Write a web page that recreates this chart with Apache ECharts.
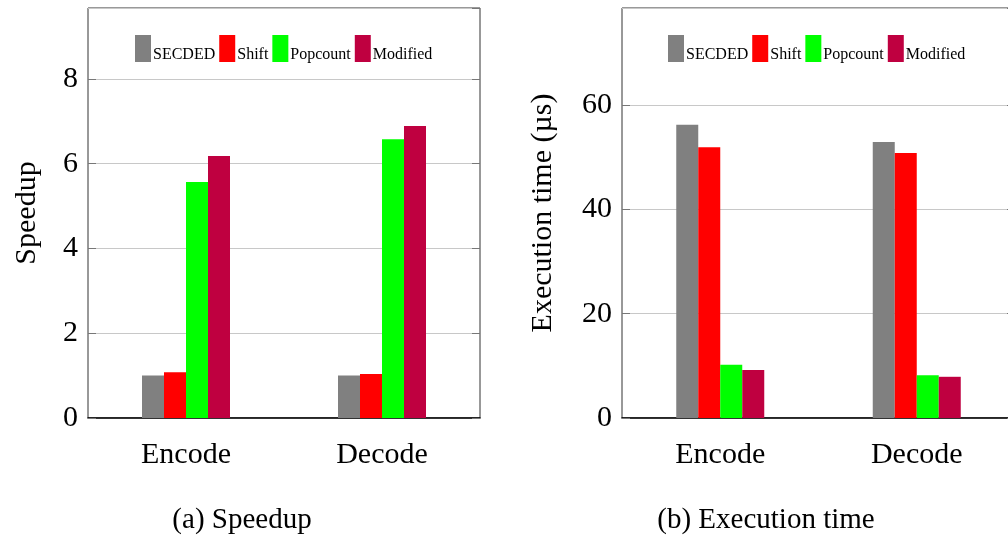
<!DOCTYPE html>
<html><head><meta charset="utf-8">
<script src="https://cdn.jsdelivr.net/npm/echarts@6/dist/echarts.min.js"></script>
<style>html,body{margin:0;padding:0;background:#fff;overflow:hidden}#c{width:1020px;height:537px}</style>
</head><body><div id="c"></div>
<script>
const categories = ['Encode', 'Decode'];
const seriesNames = ['SECDED', 'Shift', 'Popcount', 'Modified'];
const colors = ['#808080', '#ff0000', '#00ff00', '#bf0040'];
const speedupSECDED = [1.0, 1.0];
const speedupShift = [1.08, 1.04];
const speedupPopcount = [5.57, 6.58];
const speedupModified = [6.18, 6.89];
const timeSECDED = [56.2, 52.9];
const timeShift = [51.9, 50.8];
const timePopcount = [10.2, 8.2];
const timeModified = [9.2, 7.9];
const speedupTicks = [0, 2, 4, 6, 8];
const timeTicks = [0, 20, 40, 60];
const captions = ['(a) Speedup', '(b) Execution time'];

const FONT = 'Liberation Serif';
const speedupData = [speedupSECDED, speedupShift, speedupPopcount, speedupModified];
const timeData = [timeSECDED, timeShift, timePopcount, timeModified];

function yAxes(gridIndex, max, interval, name, nameGap) {
  return [{
    type: 'value', gridIndex, min: 0, max, interval, position: 'left',
    name, nameLocation: 'middle', nameGap,
    nameTextStyle: {fontFamily: FONT, fontSize: 30, color: '#000'},
    axisLine: {show: false},
    axisTick: {show: true, inside: true, length: 8, lineStyle: {color: '#777'}},
    axisLabel: {fontFamily: FONT, fontSize: 30, color: '#000', margin: 10, showMaxLabel: false},
    splitLine: {show: true, lineStyle: {color: '#c8c8c8', width: 1}}
  }, {
    type: 'value', gridIndex, min: 0, max, interval, position: 'right',
    axisLine: {show: false},
    axisTick: {show: true, inside: true, length: 8, lineStyle: {color: '#777'}},
    axisLabel: {show: false},
    splitLine: {show: false}
  }];
}
function xAxis(gridIndex) {
  return {
    type: 'category', gridIndex, data: categories,
    axisLine: {show: true, lineStyle: {color: '#000', width: 1.5}},
    axisTick: {show: false},
    axisLabel: {fontFamily: FONT, fontSize: 30, color: '#000', margin: 22}
  };
}
function legend(left) {
  return {
    left, top: 35, padding: 0, itemWidth: 16, itemHeight: 27, itemGap: 4,
    icon: 'rect',
    data: seriesNames.slice(),
    formatter: '{a|{name}}',
    textStyle: {fontFamily: FONT, fontSize: 16, color: '#000',
      rich: {a: {fontFamily: FONT, fontSize: 16, color: '#000', padding: [12, 0, 0, -3]}}}
  };
}

const series = [];
seriesNames.forEach((n, i) => {
  series.push({name: n, type: 'bar', xAxisIndex: 0, yAxisIndex: 0, data: speedupData[i],
    barWidth: 22, barGap: '0%', itemStyle: {color: colors[i]}, animation: false});
});
seriesNames.forEach((n, i) => {
  series.push({name: n, type: 'bar', xAxisIndex: 1, yAxisIndex: 2, data: timeData[i],
    barWidth: 22, barGap: '0%', itemStyle: {color: colors[i]}, animation: false});
});

const chart = echarts.init(document.getElementById('c'), null, {renderer: 'canvas'});
chart.setOption({
  animation: false,
  color: colors,
  grid: [
    {left: 88, top: 8, width: 392, height: 410, show: true, borderColor: '#333', borderWidth: 1, backgroundColor: 'transparent'},
    {left: 622, top: 8, width: 393, height: 410, show: true, borderColor: '#333', borderWidth: 1, backgroundColor: 'transparent'}
  ],
  legend: [legend(135), legend(668)],
  xAxis: [xAxis(0), xAxis(1)],
  yAxis: [].concat(yAxes(0, 9.675, 2, 'Speedup', 46), yAxes(1, 78.6, 20, 'Execution time (µs)', 64)),
  series,
  graphic: [
    {type: 'text', x: 242, y: 520, style: {text: captions[0], font: '29px "Liberation Serif"', fill: '#000', align: 'center', verticalAlign: 'middle'}},
    {type: 'text', x: 766, y: 520, style: {text: captions[1], font: '29px "Liberation Serif"', fill: '#000', align: 'center', verticalAlign: 'middle'}}
  ]
});
</script></body></html>
